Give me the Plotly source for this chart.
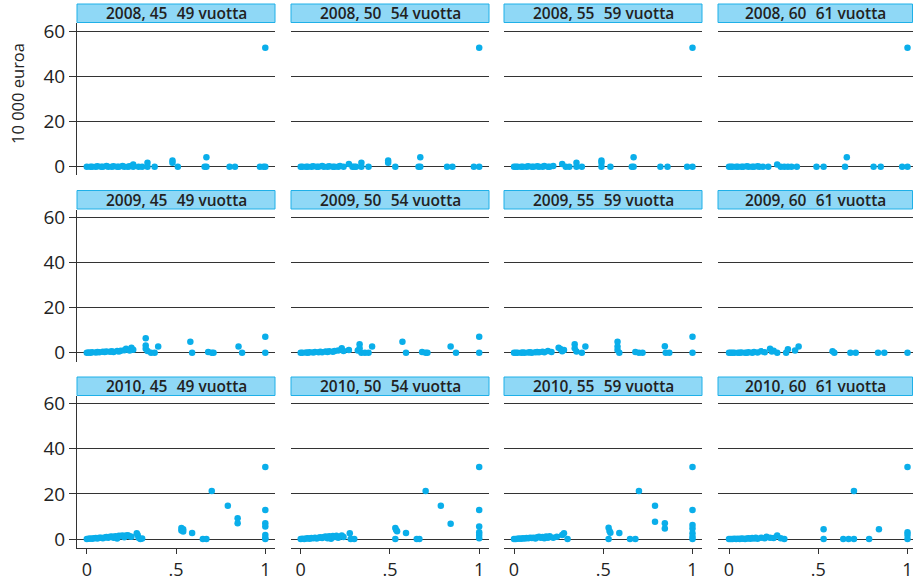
import plotly.graph_objects as go

# ---- data: x = share (0..1), y = amount in 10 000 euro ----
years = ["2008", "2009", "2010"]
ages = ["45\u2002\u200a49", "50\u2002\u200a54", "55\u2002\u200a59", "60\u2002\u200a61"]

x_2008_45 = [0.0, 0.02, 0.03, 0.05, 0.06, 0.08, 0.09, 0.11, 0.12, 0.14, 0.15, 0.17, 0.18, 0.2, 0.21, 0.23, 0.24, 0.26, 0.26, 0.29, 0.31, 0.34, 0.34, 0.38, 0.48, 0.48, 0.51, 0.66, 0.67, 0.67, 0.8, 0.83, 0.97, 0.99, 1.0, 1.0]
y_2008_45 = [0, 0, 0, 0, 0.2, 0, 0, 0.3, 0, 0, 0.2, 0, 0, 0.3, 0, 0, 0.2, 0, 1.0, 0, 0, 1.8, 0, 0, 2.7, 1.7, 0, 0, 4.2, 0, 0, 0, 0, 0, 0, 52.8]

x_2008_50 = [0.0, 0.01, 0.03, 0.04, 0.06, 0.07, 0.09, 0.1, 0.12, 0.13, 0.15, 0.16, 0.18, 0.19, 0.21, 0.22, 0.24, 0.27, 0.29, 0.3, 0.31, 0.34, 0.34, 0.38, 0.49, 0.49, 0.53, 0.66, 0.67, 0.67, 0.82, 0.85, 0.97, 1.0, 1.0]
y_2008_50 = [0, 0, 0, 0, 0, 0.2, 0, 0, 0.3, 0, 0, 0.2, 0, 0, 0, 0.3, 0, 1.2, 0, 0, 0, 1.8, 0, 0, 2.7, 1.7, 0, 0, 4.2, 0, 0, 0, 0, 0, 52.8]

x_2008_55 = [0.0, 0.01, 0.02, 0.04, 0.05, 0.07, 0.08, 0.1, 0.11, 0.13, 0.14, 0.16, 0.17, 0.19, 0.2, 0.22, 0.27, 0.29, 0.31, 0.35, 0.35, 0.38, 0.49, 0.49, 0.49, 0.54, 0.66, 0.67, 0.67, 0.82, 0.86, 0.97, 1.0, 1.0]
y_2008_55 = [0, 0, 0, 0, 0, 0, 0.2, 0, 0, 0.2, 0, 0, 0.3, 0, 0, 0.3, 1.2, 0, 0, 1.8, 0, 0, 2.7, 1.7, 0, 0, 0, 4.2, 0, 0, 0, 0, 0, 52.8]

x_2008_60 = [0.0, 0.01, 0.02, 0.04, 0.05, 0.07, 0.08, 0.1, 0.11, 0.13, 0.14, 0.16, 0.17, 0.19, 0.22, 0.27, 0.29, 0.31, 0.33, 0.35, 0.38, 0.49, 0.53, 0.65, 0.66, 0.81, 0.85, 0.97, 1.0, 1.0]
y_2008_60 = [0, 0, 0, 0, 0, 0, 0, 0.2, 0, 0, 0, 0.2, 0, 0, 0, 1.0, 0, 0, 0, 0, 0, 0, 0, 0, 4.2, 0, 0, 0, 0, 52.8]

x_2009_45 = [0.0, 0.01, 0.02, 0.03, 0.05, 0.06, 0.07, 0.09, 0.1, 0.11, 0.13, 0.14, 0.15, 0.17, 0.18, 0.19, 0.21, 0.22, 0.24, 0.25, 0.26, 0.33, 0.33, 0.33, 0.34, 0.36, 0.38, 0.4, 0.58, 0.59, 0.68, 0.7, 0.71, 0.85, 0.87, 1.0, 1.0]
y_2009_45 = [0, 0.1, 0, 0.2, 0.1, 0.3, 0.2, 0.4, 0.3, 0.5, 0.4, 0.6, 0.3, 0.7, 0.5, 0.9, 1.1, 1.8, 1.0, 2.2, 1.3, 6.4, 3.2, 1.7, 0.8, 0, 0, 2.7, 4.9, 0, 0.3, 0, 0, 2.7, 0, 7.1, 0]

x_2009_50 = [0.0, 0.01, 0.03, 0.04, 0.05, 0.07, 0.08, 0.1, 0.11, 0.12, 0.14, 0.15, 0.16, 0.18, 0.19, 0.21, 0.23, 0.24, 0.27, 0.32, 0.33, 0.33, 0.34, 0.36, 0.38, 0.4, 0.57, 0.59, 0.68, 0.7, 0.71, 0.84, 0.87, 1.0, 1.0]
y_2009_50 = [0, 0, 0.1, 0, 0.2, 0.1, 0.3, 0.2, 0.4, 0.2, 0.5, 0.3, 0.6, 0.4, 0.8, 1.0, 2.0, 0.7, 1.2, 1.0, 3.7, 2.0, 0, 0, 0, 2.7, 4.9, 0, 0.3, 0, 0, 2.7, 0, 7.1, 0]

x_2009_55 = [0.0, 0.01, 0.02, 0.04, 0.05, 0.06, 0.08, 0.09, 0.1, 0.12, 0.13, 0.14, 0.16, 0.17, 0.19, 0.21, 0.25, 0.26, 0.27, 0.28, 0.34, 0.34, 0.35, 0.38, 0.4, 0.58, 0.58, 0.58, 0.59, 0.68, 0.7, 0.72, 0.845, 0.85, 0.87, 1.0, 1.0]
y_2009_55 = [0, 0, 0, 0, 0.1, 0, 0.1, 0.2, 0, 0.2, 0.3, 0.2, 0.4, 0.2, 0.8, 0.3, 2.2, 1.6, 0.6, 1.2, 3.7, 2.0, 0.5, 0, 2.7, 4.9, 2.7, 1.2, 0, 0.3, 0, 0, 2.9, 0, 0, 7.1, 0]

x_2009_60 = [0.0, 0.01, 0.02, 0.03, 0.05, 0.06, 0.07, 0.09, 0.1, 0.11, 0.13, 0.14, 0.16, 0.18, 0.2, 0.23, 0.24, 0.25, 0.27, 0.32, 0.33, 0.37, 0.39, 0.58, 0.59, 0.68, 0.71, 0.835, 0.87, 1.0]
y_2009_60 = [0, 0, 0, 0, 0, 0, 0.1, 0, 0, 0.2, 0, 0.3, 0.1, 0.6, 0.2, 1.7, 0.5, 0.9, 0, 0, 1.5, 1.0, 2.7, 0.6, 0, 0, 0, 0, 0, 0]

x_2010_45 = [0.0, 0.01, 0.02, 0.03, 0.04, 0.05, 0.06, 0.07, 0.08, 0.09, 0.1, 0.11, 0.12, 0.13, 0.14, 0.15, 0.16, 0.17, 0.18, 0.19, 0.2, 0.21, 0.22, 0.23, 0.24, 0.25, 0.28, 0.285, 0.29, 0.3, 0.31, 0.53, 0.53, 0.54, 0.54, 0.59, 0.65, 0.67, 0.7, 0.79, 0.845, 0.845, 1.0, 1.0, 1.0, 1.0, 1.0, 1.0, 1.0]
y_2010_45 = [0, 0.1, 0.2, 0.1, 0.3, 0.4, 0.2, 0.5, 0.6, 0.3, 0.7, 0.9, 0.5, 1.0, 1.1, 0.6, 1.2, 0.2, 1.4, 1.3, 1.5, 0.8, 1.6, 1.7, 1.2, 1.0, 2.5, 1.8, 0.5, 0, 0.2, 4.9, 3.8, 4.3, 3.3, 2.7, 0, 0, 21.3, 14.8, 9.2, 7.0, 31.9, 12.9, 7.0, 5.5, 1.8, 0.3, 0]

x_2010_50 = [0.0, 0.01, 0.02, 0.03, 0.04, 0.05, 0.06, 0.07, 0.08, 0.09, 0.1, 0.11, 0.12, 0.13, 0.14, 0.15, 0.16, 0.17, 0.18, 0.19, 0.2, 0.21, 0.23, 0.24, 0.275, 0.28, 0.3, 0.53, 0.53, 0.535, 0.54, 0.59, 0.65, 0.665, 0.7, 0.785, 0.84, 1.0, 1.0, 1.0, 1.0, 1.0, 1.0]
y_2010_50 = [0, 0.1, 0, 0.2, 0.3, 0.1, 0.4, 0.3, 0.5, 0.2, 0.6, 0.8, 0.4, 0.9, 1.1, 0.3, 1.2, 0.1, 1.3, 0.9, 1.4, 0.6, 1.5, 0.9, 2.5, 0, 0, 0, 4.9, 4.0, 3.4, 2.7, 0, 0, 21.3, 14.8, 6.8, 31.9, 12.9, 5.5, 3.0, 1.8, 0.3]

x_2010_55 = [0.0, 0.01, 0.02, 0.03, 0.04, 0.05, 0.06, 0.07, 0.08, 0.09, 0.1, 0.11, 0.12, 0.13, 0.14, 0.15, 0.16, 0.17, 0.18, 0.19, 0.2, 0.22, 0.24, 0.27, 0.28, 0.3, 0.53, 0.53, 0.535, 0.54, 0.59, 0.65, 0.68, 0.7, 0.79, 0.79, 0.845, 0.845, 1.0, 1.0, 1.0, 1.0, 1.0, 1.0, 1.0]
y_2010_55 = [0, 0, 0.1, 0.2, 0.1, 0.3, 0.2, 0.4, 0.3, 0.5, 0.4, 0.6, 0.2, 0.8, 1.0, 0.5, 0.9, 0.3, 1.1, 0.6, 1.2, 0.5, 1.0, 1.8, 2.5, 0, 5.0, 0, 3.5, 2.8, 2.7, 0, 0, 21.3, 14.8, 7.7, 7.0, 4.7, 31.9, 12.9, 6.2, 4.7, 2.5, 1.0, 0]

x_2010_60 = [0.0, 0.01, 0.02, 0.03, 0.04, 0.05, 0.06, 0.07, 0.08, 0.09, 0.1, 0.11, 0.12, 0.13, 0.14, 0.15, 0.16, 0.18, 0.2, 0.21, 0.23, 0.25, 0.27, 0.29, 0.31, 0.53, 0.53, 0.64, 0.67, 0.7, 0.7, 0.785, 0.84, 1.0, 1.0, 1.0, 1.0]
y_2010_60 = [0, 0, 0, 0.1, 0, 0.1, 0, 0.2, 0.1, 0, 0.2, 0.3, 0.1, 0.4, 0.2, 0.5, 0.1, 0.6, 0.3, 1.0, 0.5, 0.4, 1.5, 0.3, 0, 4.3, 0, 0, 0, 21.3, 0, 0, 4.3, 31.9, 3.0, 1.8, 0]

panels = [
    [(x_2008_45, y_2008_45), (x_2008_50, y_2008_50), (x_2008_55, y_2008_55), (x_2008_60, y_2008_60)],
    [(x_2009_45, y_2009_45), (x_2009_50, y_2009_50), (x_2009_55, y_2009_55), (x_2009_60, y_2009_60)],
    [(x_2010_45, y_2010_45), (x_2010_50, y_2010_50), (x_2010_55, y_2010_55), (x_2010_60, y_2010_60)],
]

y_ticks = [0, 20, 40, 60]
x_ticks = [0, 0.5, 1]
x_tick_text = ["0", ".5", "1"]

# ---- geometry (pixels of a 913 x 581 canvas) ----
W, H = 913, 581
col_px = [(77, 275), (291, 489), (504, 702), (718, 913)]
col_zero = [86.8, 300.7, 514.0, 729.0]
x_scale = 178.5
row_px = [(23, 175), (209.5, 361.5), (396, 548)]
row_zero = [166.7, 352.7, 539.0]
y_scale = 2.255

DOT = "#0aaeea"
GRID = "#333333"
STRIP_FILL = "#8fd8f6"
STRIP_LINE = "#1fb0e8"
FONT = "Open Sans"

fig = go.Figure()
layout = dict(
    width=W, height=H, margin=dict(l=0, r=0, t=0, b=0, autoexpand=False),
    paper_bgcolor="white", plot_bgcolor="white", showlegend=False,
    font=dict(family=FONT, color="#222222"),
)
shapes, annotations = [], []

for r in range(3):
    for c in range(4):
        k = r * 4 + c + 1
        xs, ys = panels[r][c]
        xname = "x" if k == 1 else f"x{k}"
        yname = "y" if k == 1 else f"y{k}"
        fig.add_trace(go.Scatter(
            x=xs, y=ys, mode="markers", xaxis=xname, yaxis=yname,
            marker=dict(color=DOT, size=6.5, line=dict(width=0)),
            hoverinfo="skip",
        ))
        x0p, x1p = col_px[c]
        t_px, b_px = row_px[r]
        xr = [(x0p - col_zero[c]) / x_scale, (x1p - col_zero[c]) / x_scale]
        yr = [-(b_px - row_zero[r]) / y_scale, (row_zero[r] - t_px) / y_scale]
        bottom = r == 2
        first = c == 0
        layout["xaxis" if k == 1 else f"xaxis{k}"] = dict(
            domain=[x0p / W, x1p / W], range=xr, anchor=yname,
            automargin=False, showgrid=False, zeroline=False,
            showline=bottom, linecolor=GRID, linewidth=1,
            ticks="outside" if bottom else "", ticklen=5, tickcolor=GRID,
            ticklabelstandoff=0,
            tickvals=x_ticks, ticktext=x_tick_text, showticklabels=bottom,
            tickfont=dict(size=18, family=FONT, color="#222222"),
            fixedrange=True,
        )
        layout["yaxis" if k == 1 else f"yaxis{k}"] = dict(
            domain=[1 - b_px / H, 1 - t_px / H], range=yr, anchor=xname,
            automargin=False, showgrid=True, gridcolor=GRID, gridwidth=1, zeroline=False,
            showline=first, linecolor=GRID, linewidth=1,
            ticks="outside" if first else "", ticklen=7, tickcolor=GRID,
            tickvals=y_ticks, showticklabels=first,
            tickfont=dict(size=19, family=FONT, color="#222222"),
            fixedrange=True,
        )
        # facet strip
        s_top, s_bot = t_px - 19, t_px - 0.5
        shapes.append(dict(
            type="rect", xref="paper", yref="paper",
            x0=x0p / W, x1=min(x1p, W - 0.5) / W,
            y0=1 - s_bot / H, y1=1 - s_top / H,
            fillcolor=STRIP_FILL, line=dict(color=STRIP_LINE, width=1), layer="below",
        ))
        annotations.append(dict(
            text=f"{years[r]}, {ages[c]} vuotta", xref="paper", yref="paper",
            x=(x0p + x1p) / 2 / W, y=1 - (s_top + s_bot) / 2 / H,
            xanchor="center", yanchor="middle", showarrow=False,
            font=dict(size=15.5, family=FONT, color="#222222", weight=600),
        ))

annotations.append(dict(
    text="10 000 euroa", xref="paper", yref="paper",
    x=18 / W, y=1 - 94 / H, xanchor="center", yanchor="middle",
    textangle=-90, showarrow=False,
    font=dict(size=16.5, family=FONT, color="#222222"),
))

layout["shapes"] = shapes
layout["annotations"] = annotations
fig.update_layout(**layout)
fig.write_html("out.html")
